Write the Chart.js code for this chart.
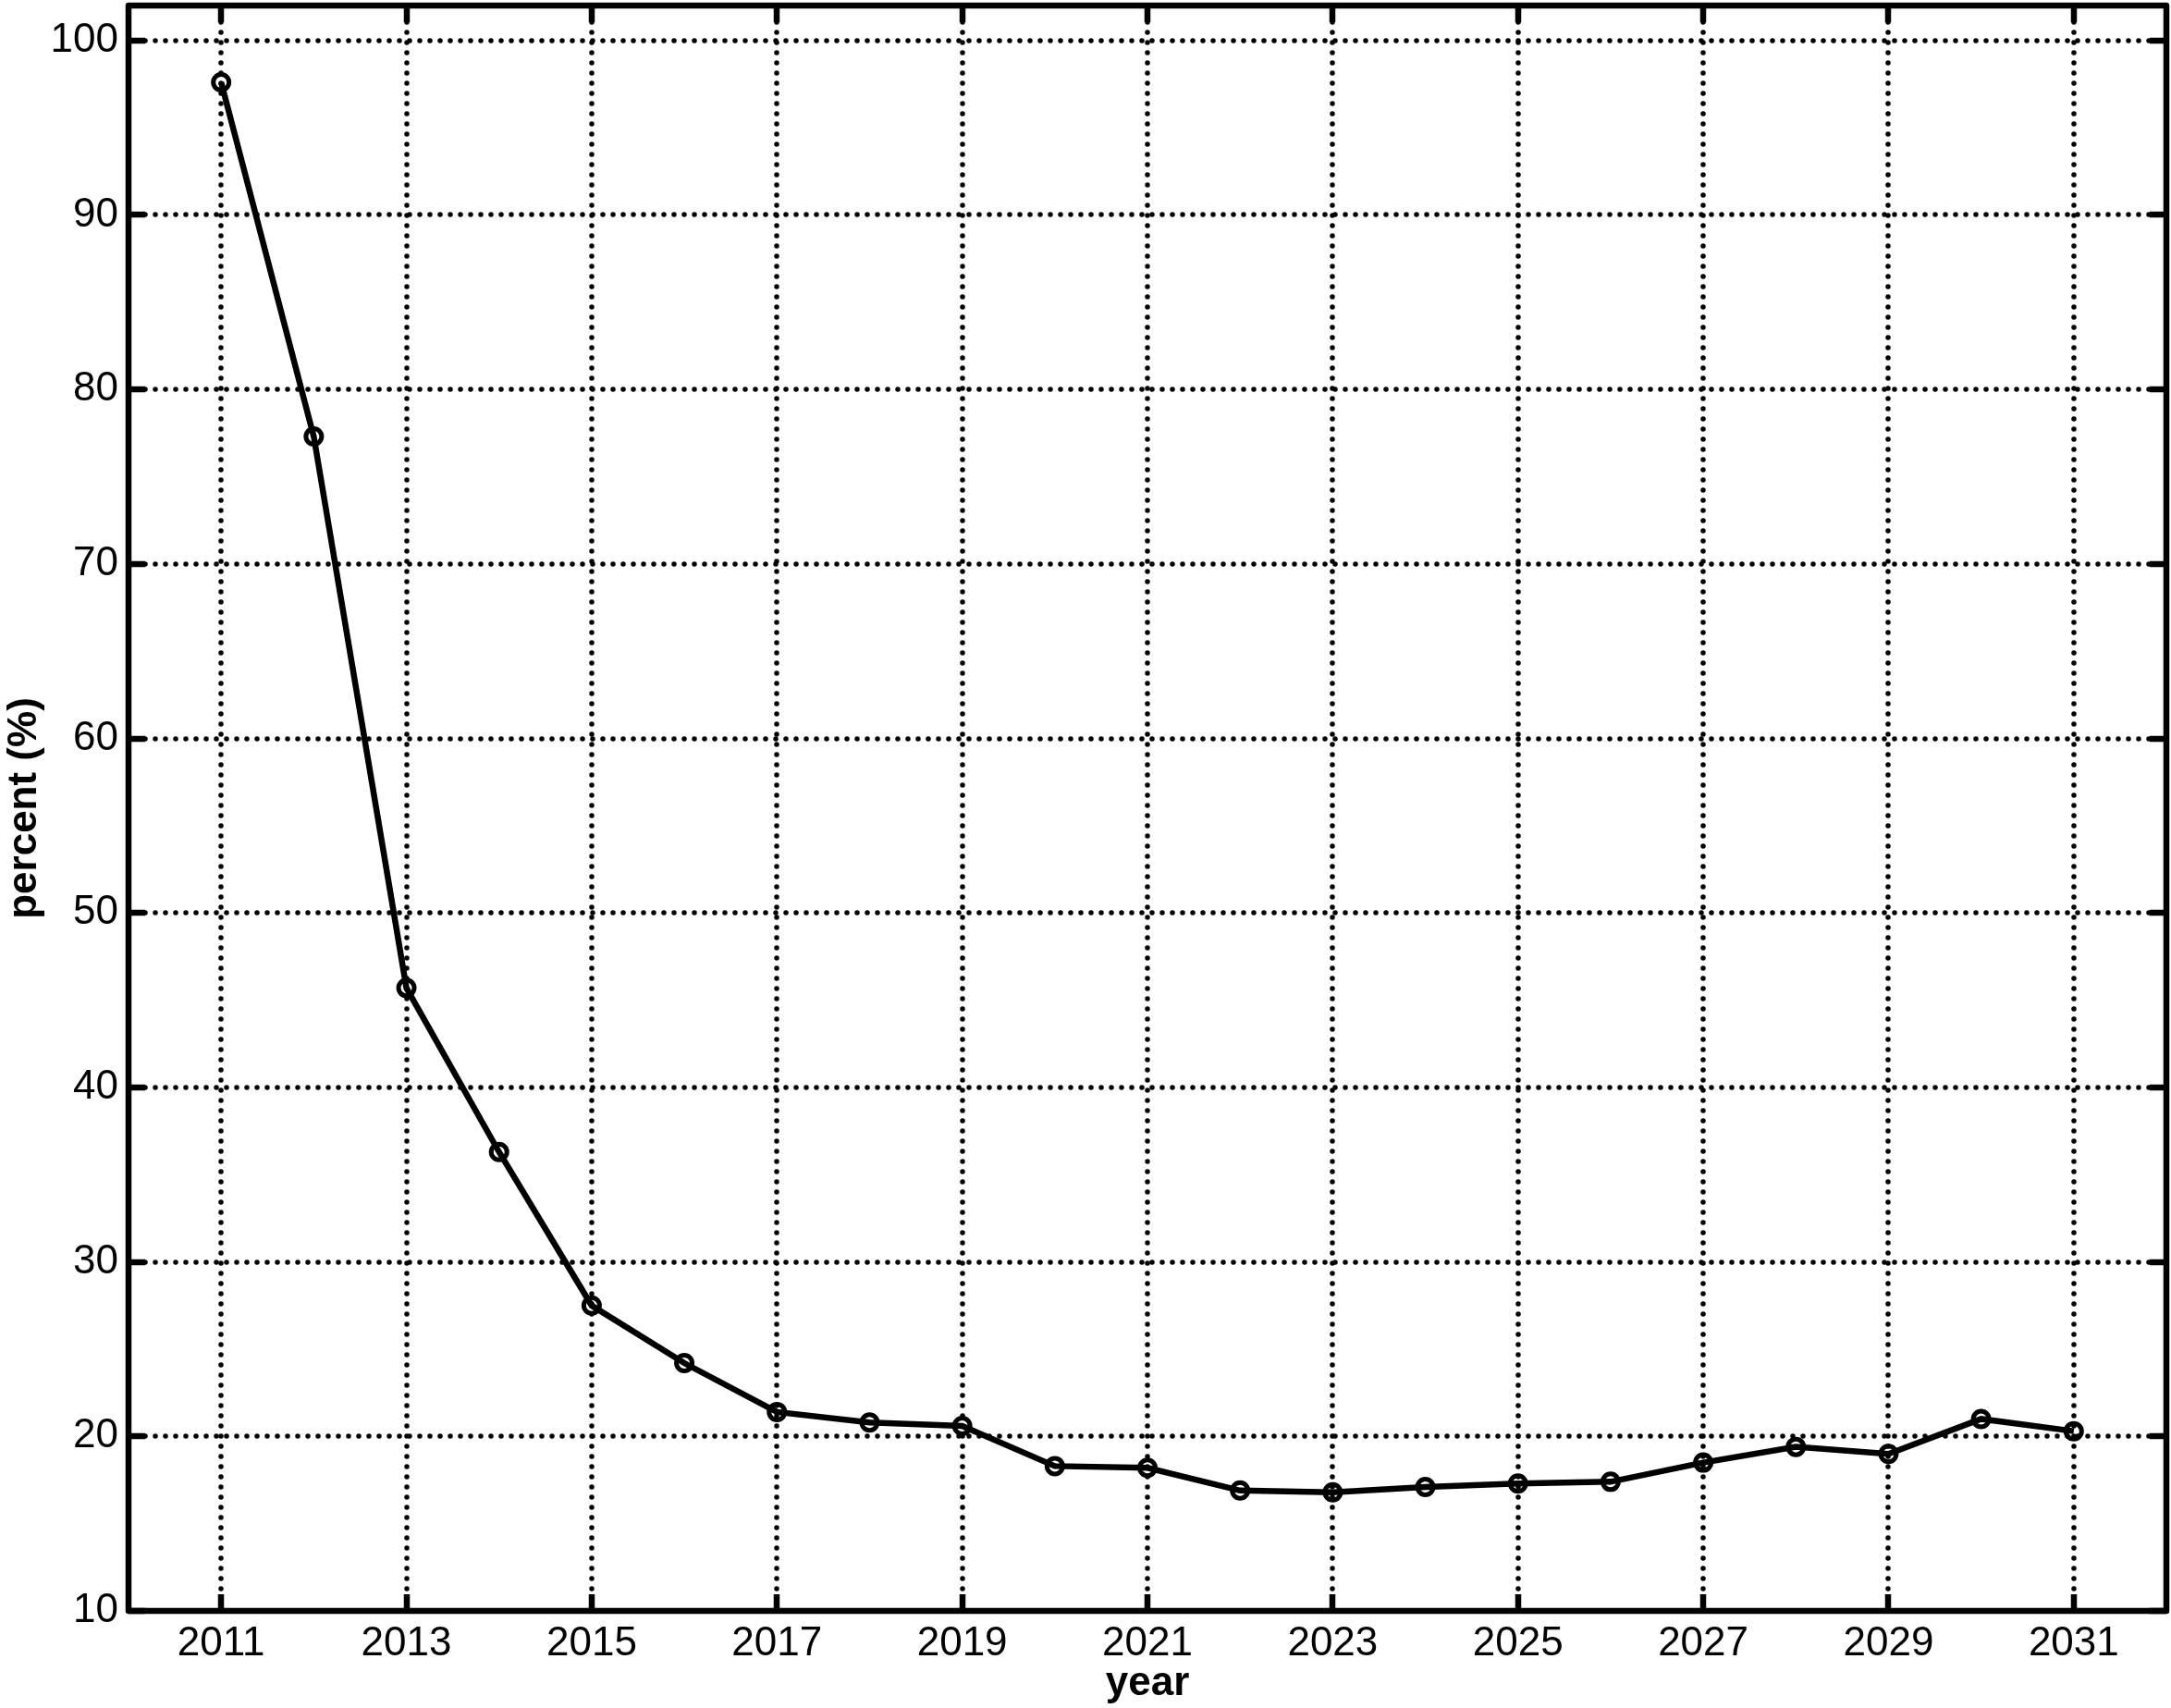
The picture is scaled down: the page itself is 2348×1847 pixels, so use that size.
<!DOCTYPE html>
<html>
<head>
<meta charset="utf-8">
<script src="https://cdn.jsdelivr.net/npm/chart.js@4"></script>
<style>
  html, body { margin: 0; padding: 0; background: #fff; }
  #wrap { width: 2348px; height: 1847px; }
</style>
</head>
<body>
<div id="wrap"><canvas id="chart" width="2348" height="1847"></canvas></div>
<script>
// data
const years = [2011, 2012, 2013, 2014, 2015, 2016, 2017, 2018, 2019, 2020, 2021,
               2022, 2023, 2024, 2025, 2026, 2027, 2028, 2029, 2030, 2031];
const percent = [97.6, 77.3, 45.7, 36.3, 27.5, 24.2, 21.4, 20.8, 20.6, 18.3, 18.2,
                 16.9, 16.8, 17.1, 17.3, 17.4, 18.5, 19.4, 19.0, 21.0, 20.3];
const xTicks = [2011, 2013, 2015, 2017, 2019, 2021, 2023, 2025, 2027, 2029, 2031];
const yTicks = [10, 20, 30, 40, 50, 60, 70, 80, 90, 100];

const FONT = '"Liberation Sans", Arial, Helvetica, sans-serif';

// dotted grid + thick frame with inward ticks (matlab look)
const frame = {
    id: 'frame',
    beforeDatasetsDraw(chart) {
        const ctx = chart.ctx;
        const a = chart.chartArea;
        const x = chart.scales.x, y = chart.scales.y;
        ctx.save();
        ctx.strokeStyle = '#000';
        ctx.lineWidth = 5.5;
        ctx.lineCap = 'round';
        ctx.setLineDash([0, 11]);
        xTicks.forEach(v => {
            const px = Math.round(x.getPixelForValue(v));
            ctx.beginPath();
            ctx.moveTo(px, a.top + 18);
            ctx.lineTo(px, a.bottom - 18);
            ctx.stroke();
        });
        yTicks.forEach(v => {
            const py = Math.round(y.getPixelForValue(v));
            ctx.beginPath();
            ctx.moveTo(a.left + 18, py);
            ctx.lineTo(a.right - 18, py);
            ctx.stroke();
        });
        ctx.restore();
    },
    afterDraw(chart) {
        const ctx = chart.ctx;
        const a = chart.chartArea;
        const x = chart.scales.x, y = chart.scales.y;
        const len = 18;
        ctx.save();
        ctx.strokeStyle = '#000';
        ctx.lineWidth = 6.5;
        ctx.lineJoin = 'round';
        ctx.beginPath();
        xTicks.forEach(v => {
            const px = Math.round(x.getPixelForValue(v));
            ctx.moveTo(px, a.bottom); ctx.lineTo(px, a.bottom - len);
            ctx.moveTo(px, a.top); ctx.lineTo(px, a.top + len);
        });
        yTicks.forEach(v => {
            const py = Math.round(y.getPixelForValue(v));
            ctx.moveTo(a.left, py); ctx.lineTo(a.left + len, py);
            ctx.moveTo(a.right, py); ctx.lineTo(a.right - len, py);
        });
        ctx.stroke();
        ctx.strokeRect(a.left, a.top, a.right - a.left, a.bottom - a.top);
        ctx.restore();
    }
};

new Chart(document.getElementById('chart'), {
    type: 'line',
    data: {
        datasets: [{
            label: 'percent',
            data: years.map((yr, i) => ({ x: yr, y: percent[i] })),
            borderColor: '#000',
            borderWidth: 6.5,
            backgroundColor: 'rgba(0,0,0,0)',
            pointRadius: 8.5,
            pointBorderWidth: 5,
            pointBorderColor: '#000',
            pointBackgroundColor: 'rgba(0,0,0,0)',
            tension: 0,
            fill: false
        }]
    },
    options: {
        responsive: false,
        animation: false,
        layout: { autoPadding: false, padding: { top: 6, right: 5, left: 0, bottom: 0 } },
        plugins: { legend: { display: false }, tooltip: { enabled: false } },
        scales: {
            x: {
                type: 'linear',
                min: 2010,
                max: 2032,
                afterBuildTicks: s => { s.ticks = xTicks.map(v => ({ value: v })); },
                afterFit: s => { s.height = 105; s.paddingLeft = 0; s.paddingRight = 0; },
                grid: { display: false, drawTicks: false },
                border: { display: false },
                ticks: {
                    color: '#000',
                    padding: 9,
                    maxRotation: 0,
                    autoSkip: false,
                    font: { family: FONT, size: 44 },
                    callback: v => String(v)
                },
                title: {
                    display: true,
                    text: 'year',
                    color: '#000',
                    padding: { top: -4, bottom: 0 },
                    font: { family: FONT, size: 44, weight: 'bold' }
                }
            },
            y: {
                type: 'linear',
                min: 10,
                max: 102,
                afterBuildTicks: s => { s.ticks = yTicks.map(v => ({ value: v })); },
                afterFit: s => { s.width = 139; s.paddingTop = 0; s.paddingBottom = 0; },
                grid: { display: false, drawTicks: false },
                border: { display: false },
                ticks: {
                    color: '#000',
                    padding: 11,
                    autoSkip: false,
                    font: { family: FONT, size: 44 }
                },
                title: {
                    display: true,
                    text: 'percent (%)',
                    color: '#000',
                    padding: { top: 0, bottom: 0 },
                    font: { family: FONT, size: 44, weight: 'bold' }
                }
            }
        }
    },
    plugins: [frame]
});
</script>
</body>
</html>
